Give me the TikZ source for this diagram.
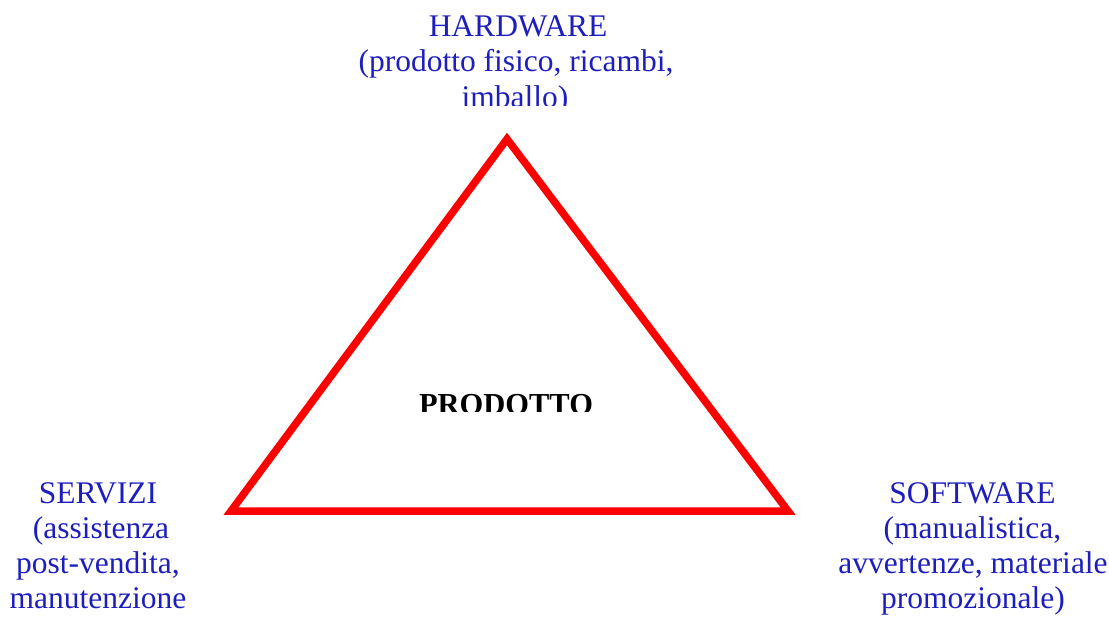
\documentclass[tikz,border=0pt]{standalone}
\usepackage{fontspec}
\setmainfont{Liberation Serif}
\definecolor{labelblue}{RGB}{30,30,190}
\definecolor{edgered}{RGB}{255,0,0}
\begin{document}
\begin{tikzpicture}[x=1pt,y=-1pt,
  line/.style={inner sep=0pt, anchor=base, text=labelblue,
    font=\fontsize{31.5}{35}\selectfont},
  title/.style={inner sep=0pt, anchor=base, text=black,
    font=\fontsize{30.5}{35}\bfseries\selectfont},
  side/.style={draw=edgered, line width=7.5pt, line join=miter}]
\useasboundingbox (0,0) rectangle (1109,617);

% corners of the product triangle
\coordinate (top) at (507,139);
\coordinate (left) at (231,511);
\coordinate (right) at (788,511);
\draw[side] (top) -- (left) -- (right) -- cycle;

% hardware label, cut off by its frame
\begin{scope}
  \clip (300,0) rectangle (730,106);
  \node[line] (hw1) at (518,37) {HARDWARE};
  \node[line] (hw2) at (516,72) {(prodotto fisico, ricambi,};
  \node[line] (hw3) at (515,107.5) {imballo)};
\end{scope}

% centre label, cut off by its frame
\begin{scope}
  \clip (380,370) rectangle (640,412);
  \node[title] (prod) at (506,414.5) {PRODOTTO};
\end{scope}

% services label
\node[line] (sv1) at (98,503.5) {SERVIZI};
\node[line] (sv2) at (101,538.5) {(assistenza};
\node[line] (sv3) at (98,573.5) {post-vendita,};
\node[line] (sv4) at (98,608.5) {manutenzione};

% software label
\node[line] (sw1) at (972.5,503.5) {SOFTWARE};
\node[line] (sw2) at (972.5,538.5) {(manualistica,};
\node[line] (sw3) at (973,573.5) {avvertenze, materiale};
\node[line] (sw4) at (973,608.5) {promozionale)};
\end{tikzpicture}
\end{document}
